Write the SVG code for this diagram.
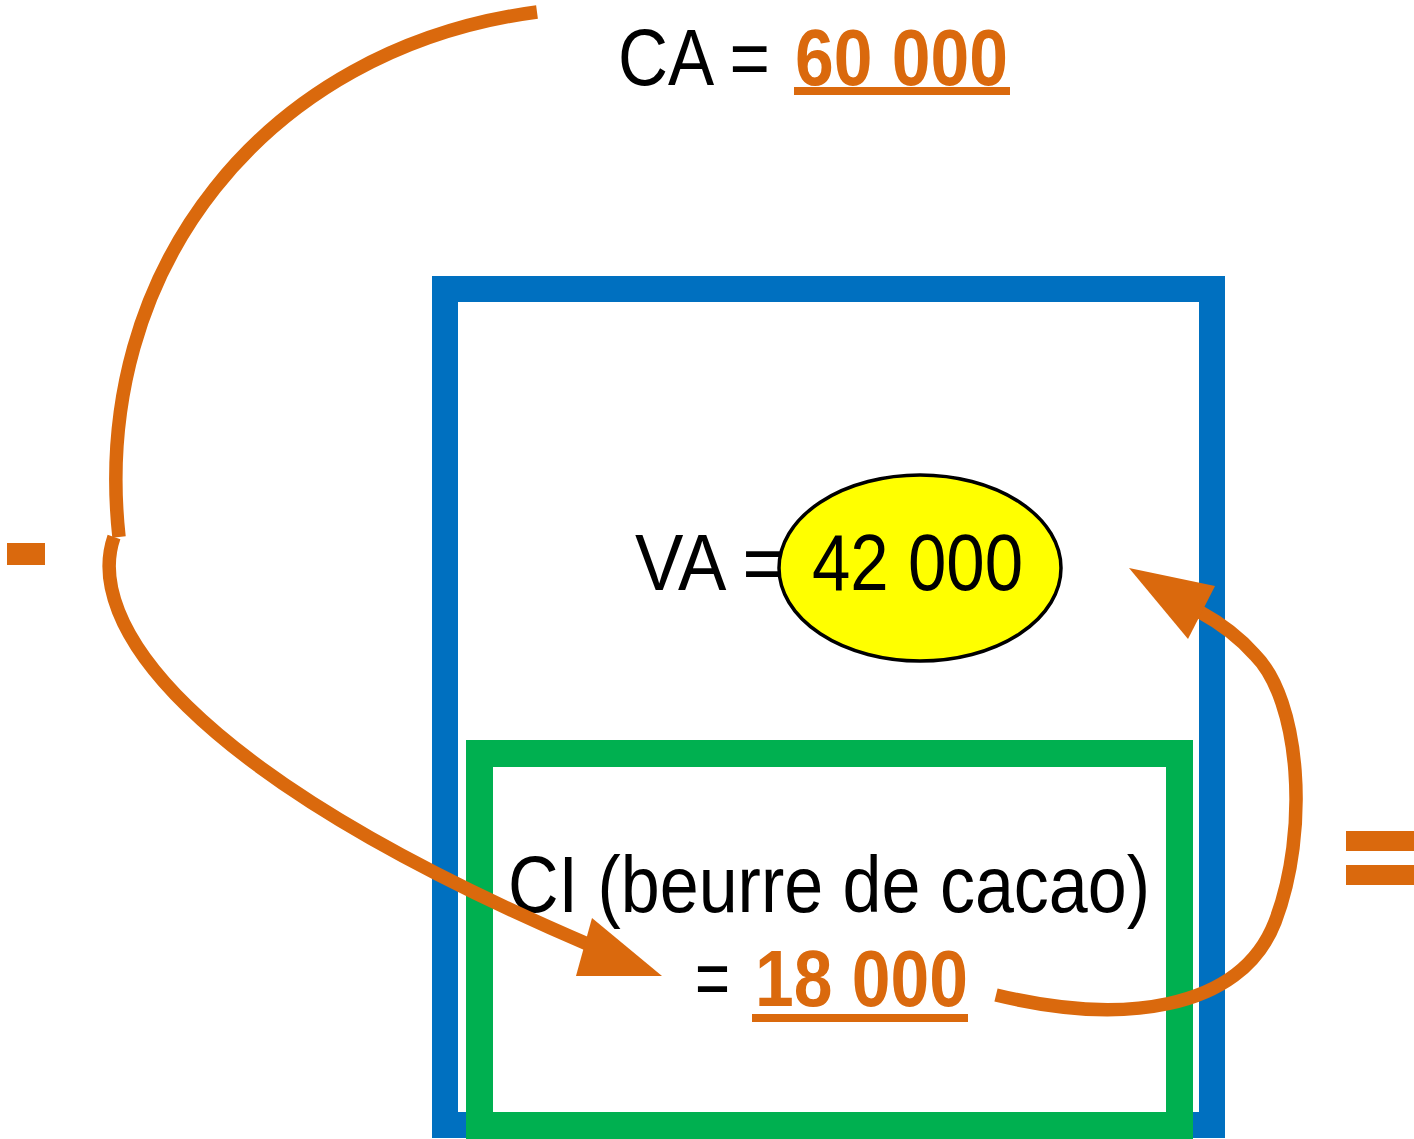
<svg xmlns="http://www.w3.org/2000/svg" width="1414" height="1139" viewBox="0 0 1414 1139">
<style>
.t{font-family:"Liberation Sans",Arial,sans-serif;font-size:80px;fill:#000}
.o{font-family:"Liberation Sans",Arial,sans-serif;font-size:80px;font-weight:bold;fill:#DA690D}
.c{fill:none;stroke:#DA690D;stroke-width:13.5}
.a{fill:#DA690D}
</style>
<rect width="1414" height="1139" fill="#fff"/>
<g id="va-box"><rect x="445" y="289" width="767" height="836" fill="none" stroke="#0070C0" stroke-width="26"/></g>
<g id="ci-box"><rect x="479.5" y="753.5" width="700" height="372" fill="none" stroke="#00B050" stroke-width="27"/></g>
<g id="ca">
<text class="t" x="618" y="85" textLength="152" lengthAdjust="spacingAndGlyphs">CA =</text>
<text class="o" x="795" y="85" textLength="213" lengthAdjust="spacingAndGlyphs">60 000</text>
<rect class="a" x="794" y="87" width="216" height="8"/>
</g>
<g id="va">
<text class="t" x="635" y="590" textLength="150" lengthAdjust="spacingAndGlyphs">VA =</text>
<ellipse cx="920" cy="568" rx="141" ry="93" fill="#FFFF00" stroke="#000" stroke-width="3.5"/>
<text class="t" x="812" y="590" textLength="211" lengthAdjust="spacingAndGlyphs">42 000</text>
</g>
<g id="ci">
<text class="t" x="508" y="912" textLength="642" lengthAdjust="spacingAndGlyphs">CI (beurre de cacao)</text>
<text class="t" x="695" y="1005" textLength="35" lengthAdjust="spacingAndGlyphs">=</text>
<text class="o" x="755" y="1006" textLength="213" lengthAdjust="spacingAndGlyphs">18 000</text>
<rect class="a" x="752" y="1014" width="216" height="8"/>
</g>
<g id="minus"><rect class="a" x="7" y="543" width="38" height="22"/></g>
<g id="equals"><rect class="a" x="1346" y="831" width="68" height="20"/><rect class="a" x="1346" y="865" width="68" height="20"/></g>
<g id="connectors">
<path class="c" d="M537,12 C265,48 90,270 119,537"/>
<path class="c" d="M114,537 C85,620 180,770 592,946"/>
<polygon class="a" points="662,976 576,976 592,918"/>
<path class="c" d="M996,995 C1120,1025 1240,1012 1275,922 C1310,830 1300,700 1255,655 C1240,638 1222,624 1200,612"/>
<polygon class="a" points="1129,568 1215,586 1188,639"/>
</g>
</svg>
